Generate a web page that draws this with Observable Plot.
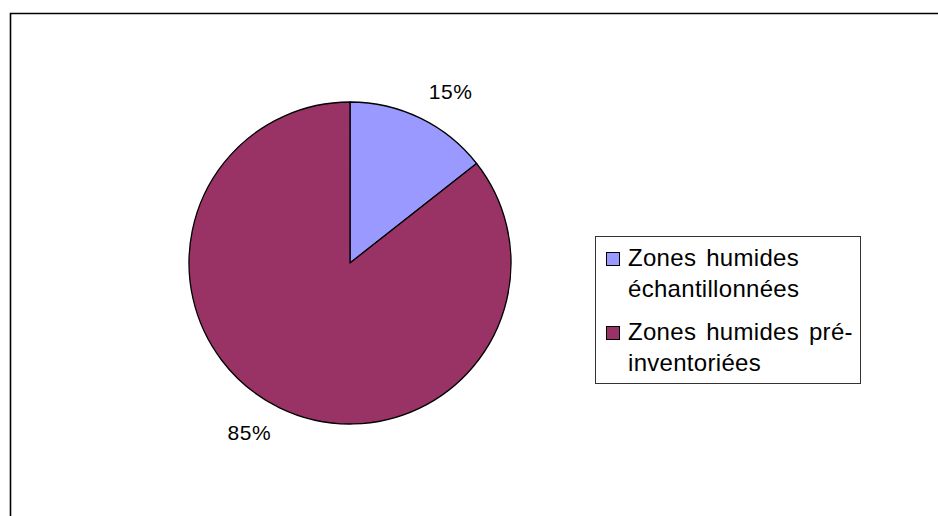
<!DOCTYPE html>
<html>
<head>
<meta charset="utf-8">
<script src="https://cdn.jsdelivr.net/npm/d3@7"></script>
<script src="https://cdn.jsdelivr.net/npm/@observablehq/plot@0.6"></script>
<style>
  html, body { margin: 0; padding: 0; background: #fff; }
  #chart { width: 938px; height: 516px; overflow: hidden; }
</style>
</head>
<body>
<div id="chart"></div>
<script>
// ---- Data ----
const categories = ["Zones humides échantillonnées", "Zones humides pré-inventoriées"];
const shares = [14.4, 85.6];
const pctLabels = ["15%", "85%"];
const legendLines = [["Zones humides", "échantillonnées"], ["Zones humides pré-", "inventoriées"]];
const colors = ["#9999ff", "#993366"];

const data = categories.map((c, i) => ({category: c, share: shares[i], label: pctLabels[i], lines: legendLines[i]}));

// ---- Layout ----
const W = 938, H = 516;
const cx = 350, cy = 263, R = 161;
const FONT = "'Liberation Sans', Arial, Helvetica, sans-serif";

// Plot's own ordinal color scale
const color = Plot.scale({color: {type: "ordinal", domain: categories, range: colors}});

const pieMark = () => {
  const arcs = d3.pie().sort(null).value(d => d.share)(data);
  const arc = d3.arc().innerRadius(0).outerRadius(R);
  const g = d3.create("svg:g").attr("transform", `translate(${cx},${cy})`);
  g.selectAll("path").data(arcs).join("path")
    .attr("d", arc)
    .attr("fill", d => color.apply(d.data.category))
    .attr("stroke", "#000")
    .attr("stroke-width", 1.3)
    .attr("stroke-linejoin", "round");
  const rr = 180;
  const mid = d => (d.startAngle + d.endAngle) / 2;
  g.selectAll("text").data(arcs).join("text")
    .attr("x", d => Math.sin(mid(d)) * rr)
    .attr("y", d => -Math.cos(mid(d)) * rr)
    .attr("dy", d => -Math.cos(mid(d)) < 0 ? "-0.1em" : "0.7em")
    .attr("text-anchor", d => Math.sin(mid(d)) >= 0 ? "start" : "end")
    .attr("font-family", FONT)
    .attr("font-size", 21)
    .attr("letter-spacing", 0.6)
    .attr("fill", "#000")
    .text(d => d.data.label);
  return g.node();
};

const legendMark = () => {
  const g = d3.create("svg:g");
  g.append("rect")
    .attr("x", 595.5).attr("y", 236.5).attr("width", 265).attr("height", 147)
    .attr("fill", "#fff").attr("stroke", "#333").attr("stroke-width", 1);
  const firstBase = 266, itemStep = 74, lineStep = 31;
  data.forEach((d, i) => {
    const base = firstBase + i * itemStep;
    g.append("rect")
      .attr("x", 606.5).attr("y", base - 13.5).attr("width", 13).attr("height", 13)
      .attr("fill", color.apply(d.category)).attr("stroke", "#000").attr("stroke-width", 1);
    const t = g.append("text")
      .attr("font-family", FONT).attr("font-size", 24)
      .attr("text-anchor", "start")
      .attr("letter-spacing", 0.3).attr("word-spacing", 3)
      .attr("fill", "#000");
    d.lines.forEach((ln, j) => {
      t.append("tspan").attr("x", 628).attr("y", base + j * lineStep).text(ln);
    });
  });
  return g.node();
};

const frameMark = () => d3.create("svg:path")
  .attr("d", `M10.5,${H + 20}V13.5H${W + 20}`)
  .attr("fill", "none").attr("stroke", "#000").attr("stroke-width", 1.6)
  .node();

const chart = Plot.plot({
  width: W,
  height: H,
  margin: 0,
  x: {axis: null, domain: [0, W]},
  y: {axis: null, domain: [0, H]},
  style: {background: "#fff", fontFamily: FONT, overflow: "hidden"},
  marks: [frameMark, pieMark, legendMark]
});
document.getElementById("chart").appendChild(chart);
</script>
</body>
</html>
